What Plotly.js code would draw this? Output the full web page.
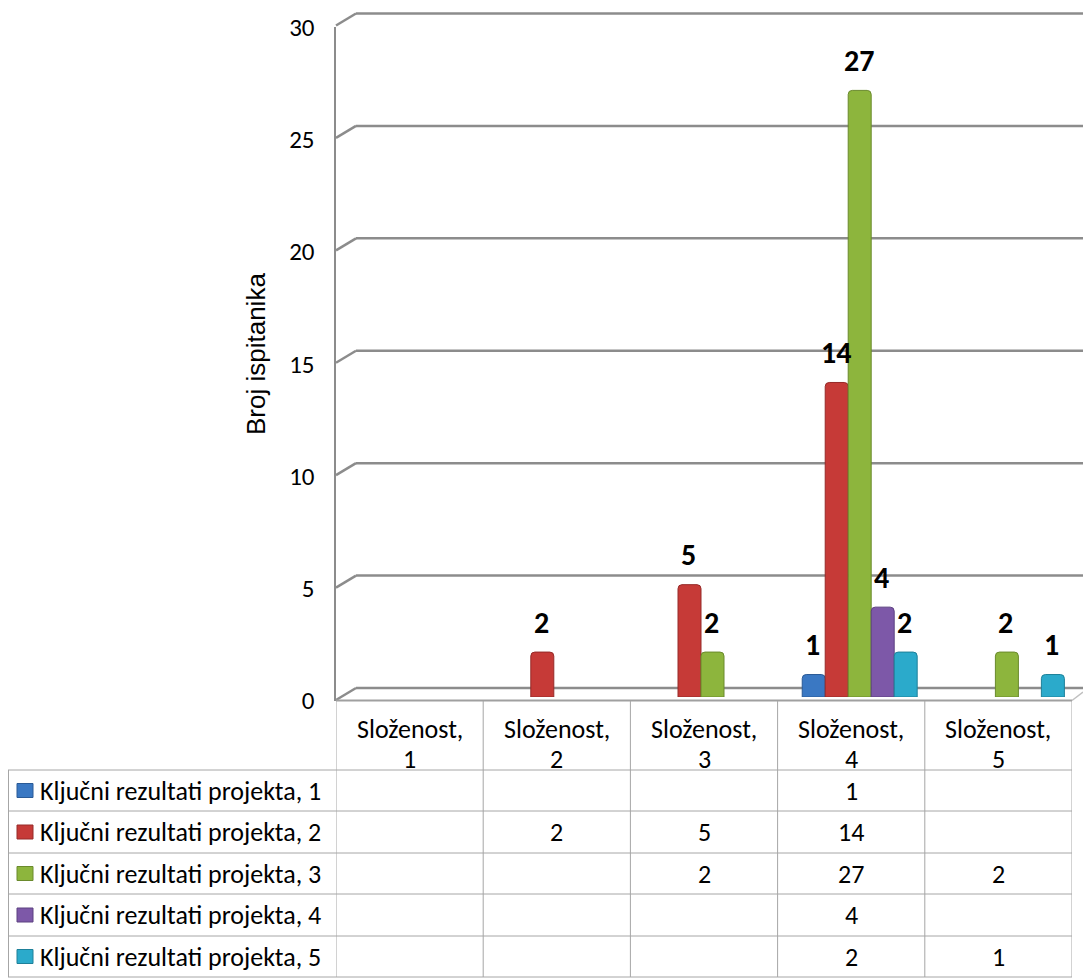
<!DOCTYPE html>
<html><head><meta charset="utf-8">
<script src="https://cdn.plot.ly/plotly-3.0.1.min.js"></script>
<style>html,body{margin:0;padding:0;background:#fff}</style>
</head><body><div id="chart" style="width:1083px;height:978px"></div>
<script>
const categories = ["Složenost, 1","Složenost, 2","Složenost, 3","Složenost, 4","Složenost, 5"];
const seriesNames = ["Ključni rezultati projekta, 1","Ključni rezultati projekta, 2","Ključni rezultati projekta, 3","Ključni rezultati projekta, 4","Ključni rezultati projekta, 5"];
const series1 = [null, null, null, 1, null];
const series2 = [null, 2, 5, 14, null];
const series3 = [null, null, 2, 27, 2];
const series4 = [null, null, null, 4, null];
const series5 = [null, null, null, 2, 1];
const yTicks = [0, 5, 10, 15, 20, 25, 30];
const yTitle = "Broj ispitanika";

const seriesValues = [series1, series2, series3, series4, series5];
const colors = ["#3A78C3", "#C63A37", "#8DB53D", "#7D58A8", "#2BAACB"];
const edgeColors = ["#2A5A96", "#962A28", "#6A8A2C", "#5C4080", "#1E8099"];

const W = 1083, H = 978;
const fx = p => p / W;
const fy = p => 1 - p / H;
const calibri = "Carlito, Lato, 'Open Sans', sans-serif";
const idx = categories.map((_, i) => i);

const traces = [];
traces.push({x: [0], y: [0], xaxis: 'x', yaxis: 'y', type: 'scatter', mode: 'none', hoverinfo: 'skip', showlegend: false});
traces.push({x: [0], y: [0], xaxis: 'x2', yaxis: 'y2', type: 'scatter', mode: 'none', hoverinfo: 'skip', showlegend: false});
seriesValues.forEach((vals, s) => {
  traces.push({
    type: 'bar', x: idx, y: vals,
    xaxis: 'x3', yaxis: 'y3', name: seriesNames[s],
    marker: {color: colors[s], line: {color: edgeColors[s], width: 1}},
    hoverinfo: 'skip', showlegend: false
  });
});

const shapes = [];
const annotations = [];
const gridCol = "#8c8c8c";
// back wall axis: 22.5 px per unit, 0 at y=688 px; range padded so the edge gridlines are drawn
const backPx = 22.5;
const backLo = -1, backHi = 30.6;
const backDomain = [fy(688 - backLo * backPx), fy(688 - backHi * backPx)];
const backOffset = 12 / backPx;
yTicks.forEach(v => {
  shapes.push({type: 'line', xref: 'paper', yref: 'y', x0: fx(336), x1: fx(356), y0: v - backOffset, y1: v,
    line: {color: gridCol, width: 2.5}, layer: 'below'});
});
shapes.push({type: 'line', xref: 'paper', yref: 'paper', x0: fx(336), x1: fx(1072), y0: fy(700.5), y1: fy(700.5), line: {color: "#a0a0a0", width: 2}});
shapes.push({type: 'line', xref: 'paper', yref: 'paper', x0: fx(1072), x1: fx(1083), y0: fy(700.5), y1: fy(692), line: {color: "#c0c0c0", width: 1.5}});

const tableCol = "#a6a6a6";
const rowEdges = [770, 811, 853, 894, 936, 977];
rowEdges.forEach(r => shapes.push({type: 'line', xref: 'paper', yref: 'paper', x0: fx(8), x1: fx(1072), y0: fy(r), y1: fy(r), line: {color: tableCol, width: 1}}));
shapes.push({type: 'line', xref: 'paper', yref: 'paper', x0: fx(8.5), x1: fx(8.5), y0: fy(770), y1: fy(977), line: {color: tableCol, width: 1}});
for (let i = 0; i <= categories.length; i++) {
  shapes.push({type: 'line', xref: 'x2', yref: 'paper', x0: i - 0.5, x1: i - 0.5, y0: fy(701), y1: fy(977), line: {color: tableCol, width: 1}});
}
const tFont = {family: calibri, size: 26, color: '#000'};
categories.forEach((c, i) => {
  const parts = c.split(", ");
  annotations.push({xref: 'x2', yref: 'paper', x: i, y: fy(729), text: parts[0] + ",",
    showarrow: false, font: tFont, xanchor: 'center', yanchor: 'middle'});
  annotations.push({xref: 'x2', yref: 'paper', x: i, y: fy(759), text: parts[1],
    showarrow: false, font: tFont, xanchor: 'center', yanchor: 'middle'});
});
const rowCenters = [790.5, 832, 873.5, 915, 956.5];
seriesNames.forEach((n, s) => {
  const yc = rowCenters[s];
  shapes.push({type: 'rect', xref: 'paper', yref: 'paper', x0: fx(17), x1: fx(33), y0: fy(yc + 7), y1: fy(yc - 7),
    fillcolor: colors[s], line: {color: edgeColors[s], width: 1}});
  annotations.push({xref: 'paper', yref: 'paper', x: fx(38), y: fy(yc), text: n, showarrow: false,
    font: tFont, xanchor: 'left', yanchor: 'middle'});
  seriesValues[s].forEach((v, i) => {
    if (v !== null) {
      annotations.push({xref: 'x2', yref: 'paper', x: i, y: fy(yc), text: String(v), showarrow: false,
        font: tFont, xanchor: 'center', yanchor: 'middle'});
    }
  });
});
const pitch = 23;
seriesValues.forEach((vals, s) => {
  vals.forEach((v, i) => {
    if (v !== null) {
      annotations.push({xref: 'x3', yref: 'y3', x: i, y: v, xshift: (s - 2) * pitch - 1, yshift: 30, text: '<b>' + v + '</b>',
        showarrow: false, font: {family: calibri, size: 30, color: '#000'}, xanchor: 'center', yanchor: 'middle'});
    }
  });
});
annotations.push({xref: 'paper', yref: 'paper', x: fx(256), y: fy(354), text: yTitle, textangle: -90, showarrow: false,
  font: {family: "'Liberation Sans', Arial, sans-serif", size: 26, color: '#000'}, xanchor: 'center', yanchor: 'middle'});

const layout = {
  width: W, height: H,
  margin: {l: 0, r: 0, t: 0, b: 0, pad: 0},
  paper_bgcolor: '#fff', plot_bgcolor: 'rgba(0,0,0,0)',
  showlegend: false,
  barmode: 'group', bargap: 0.219, bargroupgap: 0, barcornerradius: 4,
  xaxis: {domain: [fx(336), 1], range: [0, 1], visible: false, fixedrange: true, anchor: 'y'},
  yaxis: {domain: backDomain, range: [backLo, backHi], tickvals: yTicks, showticklabels: false, showgrid: false,
    zeroline: false, showline: false, anchor: 'x', fixedrange: true},
  xaxis2: {domain: [fx(336), fx(1072)], range: [-0.5, 4.5], visible: false, anchor: 'y2', fixedrange: true},
  yaxis2: {domain: [fy(700.5), fy(27)], range: [0, 30], tickvals: yTicks, showgrid: false, zeroline: false,
    showline: true, linecolor: gridCol, linewidth: 2.5, ticks: '', ticklabelstandoff: 14,
    tickfont: {family: calibri, size: 25, color: '#000'}, anchor: 'x2', fixedrange: true},
  xaxis3: {domain: [fx(344.5), fx(1080.5)], range: [-0.5, 4.5], visible: false, anchor: 'y3', fixedrange: true},
  yaxis3: {domain: [fy(697), fy(23)], range: [0, 30], visible: false, anchor: 'x3', fixedrange: true},
  shapes: shapes, annotations: annotations
};
// back wall gridlines drawn from the back axis values
yTicks.forEach(v => {
  shapes.push({type: 'line', xref: 'paper', yref: 'y', x0: fx(356), x1: 1, y0: v, y1: v,
    line: {color: gridCol, width: 2.5}, layer: 'below'});
});
Plotly.newPlot('chart', traces, layout, {displayModeBar: false, staticPlot: true});
</script></body></html>
